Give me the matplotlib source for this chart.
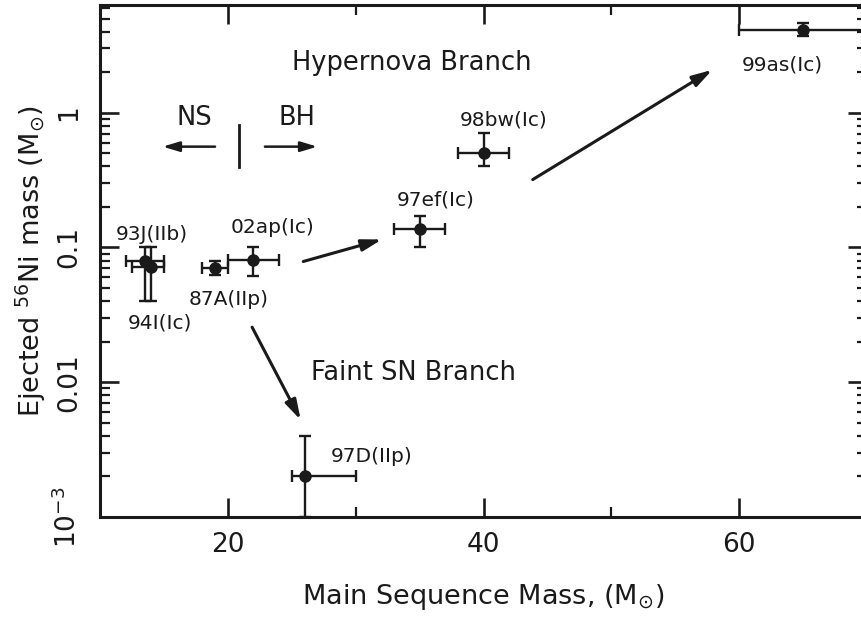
import matplotlib
matplotlib.use("Agg")
import matplotlib.pyplot as plt
from matplotlib.ticker import FixedLocator, FixedFormatter, LogLocator, NullFormatter

# Supernovae: progenitor main-sequence mass and ejected 56Ni mass
names = ["93J(IIb)", "94I(Ic)", "87A(IIp)", "02ap(Ic)", "97ef(Ic)", "98bw(Ic)", "99as(Ic)", "97D(IIp)"]
mass = [13.5, 14.0, 19.0, 22.0, 35.0, 40.0, 65.0, 26.0]
mass_lo = [12.0, 12.5, 18.0, 20.0, 33.0, 38.0, 60.0, 25.0]
mass_hi = [15.0, 15.0, 20.0, 24.0, 37.0, 42.0, 70.0, 30.0]
ni = [0.079, 0.072, 0.070, 0.081, 0.138, 0.50, 4.1, 0.0020]
ni_lo = [0.040, 0.040, 0.062, 0.061, 0.100, 0.40, 3.7, 0.0010]
ni_hi = [0.100, 0.100, 0.079, 0.100, 0.170, 0.71, 4.6, 0.0040]

# label offsets (pixels) from each point
label_dx = [7, 9, 14, 19, 16, 20, -21, 67]
label_dy = [27, -56, -31, 32, 29, 33, -35, 20]

# branch arrows: (x0, y0) -> (x1, y1)
arrows = [
    ((21.9, 0.0256), (25.7, 0.00525)),
    ((25.9, 0.0787), (32.05, 0.1147)),
    ((43.85, 0.319), (57.9, 2.08)),
]

x_ticks = [20, 40, 60]
y_ticks = [1e-3, 1e-2, 1e-1, 1]
y_tick_labels = [r"$10^{-3}$", "0.01", "0.1", "1"]

INK = "#1a1a1a"
plt.rcParams["font.family"] = ["DejaVu Sans"]
plt.rcParams["mathtext.fontset"] = "dejavusans"

fig = plt.figure(figsize=(8.61, 6.19), dpi=100)
ax = fig.add_axes([100 / 861, 1 - 517 / 619, 767 / 861, 512 / 619])

ax.set_xscale("linear")
ax.set_yscale("log")
ax.set_xlim(10, 70)
ax.set_ylim(1e-3, 6.3)

for i in range(len(names)):
    xerr = [[mass[i] - mass_lo[i]], [mass_hi[i] - mass[i]]]
    yerr = [[ni[i] - ni_lo[i]], [ni_hi[i] - ni[i]]]
    ax.errorbar([mass[i]], [ni[i]], xerr=xerr, yerr=yerr, fmt="o", color=INK,
                ms=8, elinewidth=1.7, capsize=4.5, capthick=1.7, clip_on=False, zorder=3)
    ax.annotate(names[i], (mass[i], ni[i]), xytext=(label_dx[i], label_dy[i]),
                textcoords="offset pixels", ha="center", va="center",
                fontsize=14.5, color=INK)

for (x0, y0), (x1, y1) in arrows:
    ax.annotate("", xy=(x1, y1), xytext=(x0, y0),
                arrowprops=dict(arrowstyle="-|>,head_length=1.2,head_width=0.35",
                                color=INK, lw=2.2, shrinkA=0, shrinkB=0))

# NS / BH divide
ax.annotate("", xy=(14.9, 0.56), xytext=(19.0, 0.56),
            arrowprops=dict(arrowstyle="-|>,head_length=1.0,head_width=0.3",
                            color=INK, lw=1.8, shrinkA=0, shrinkB=0))
ax.annotate("", xy=(27.0, 0.56), xytext=(22.9, 0.56),
            arrowprops=dict(arrowstyle="-|>,head_length=1.0,head_width=0.3",
                            color=INK, lw=1.8, shrinkA=0, shrinkB=0))
ax.plot([20.9, 20.9], [0.398, 0.815], color=INK, lw=2.0)
ax.text(17.4, 0.92, "NS", ha="center", va="center", fontsize=18.5, color=INK)
ax.text(25.4, 0.92, "BH", ha="center", va="center", fontsize=18.5, color=INK)

ax.text(34.4, 2.35, "Hypernova Branch", ha="center", va="center", fontsize=18.5, color=INK)
ax.text(34.5, 0.0117, "Faint SN Branch", ha="center", va="center", fontsize=18.5, color=INK)

# axes styling
for s in ax.spines.values():
    s.set_linewidth(2.2)
    s.set_color(INK)

ax.xaxis.set_major_locator(FixedLocator(x_ticks))
ax.xaxis.set_minor_locator(FixedLocator([30, 50]))
ax.yaxis.set_major_locator(FixedLocator(y_ticks))
ax.yaxis.set_major_formatter(FixedFormatter(y_tick_labels))
ax.yaxis.set_minor_locator(LogLocator(base=10, subs=range(2, 10)))
ax.yaxis.set_minor_formatter(NullFormatter())

ax.tick_params(which="both", direction="in", top=True, right=True, color=INK,
               labelsize=19, labelcolor=INK)
ax.tick_params(which="major", length=14, width=1.9)
ax.tick_params(which="minor", length=7, width=1.6)
ax.tick_params(axis="x", which="major", pad=11)
ax.tick_params(axis="y", which="major", pad=13)
for lab in ax.get_yticklabels():
    lab.set_rotation(90)
    lab.set_va("center")

ax.set_xlabel(r"Main Sequence Mass, (M$_{\odot}$)", fontsize=19.5, labelpad=17, color=INK)
ax.set_ylabel(r"Ejected $^{56}$Ni mass (M$_{\odot}$)", fontsize=19.5, labelpad=4, color=INK)

fig.savefig("out.png", dpi=100)
